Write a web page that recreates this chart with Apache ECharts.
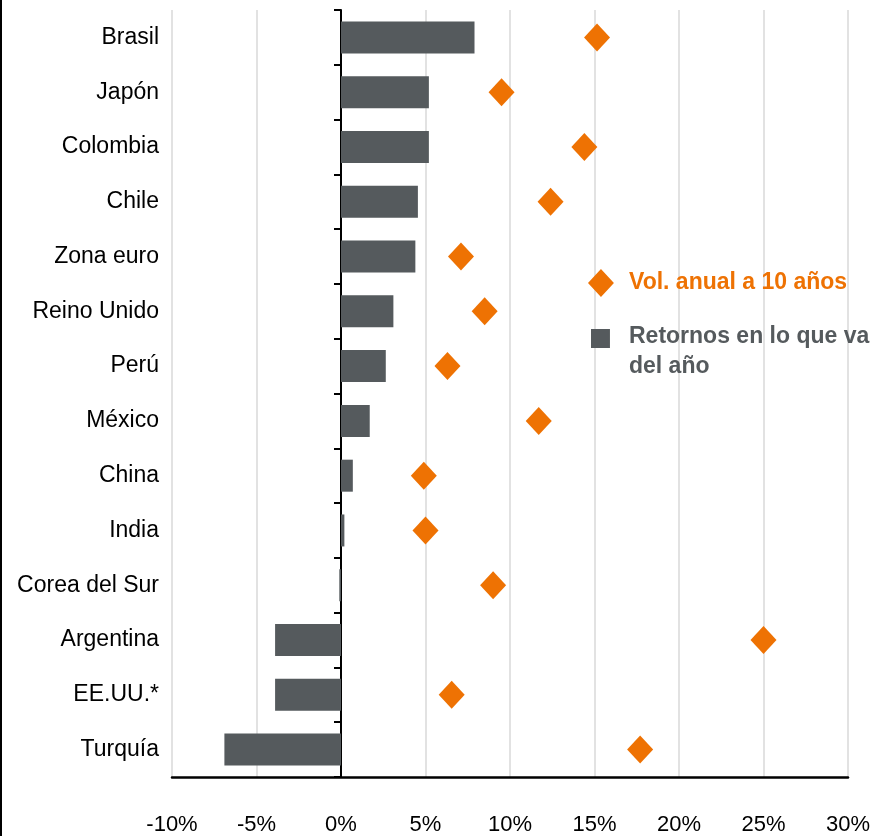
<!DOCTYPE html>
<html>
<head>
<meta charset="utf-8">
<script src="https://cdn.jsdelivr.net/npm/echarts@6/dist/echarts.min.js"></script>
<style>html,body{margin:0;padding:0;background:#fff;}#c{width:883px;height:836px;}</style>
</head>
<body>
<div id="c"></div>
<script>
const categories = ['Brasil','Japón','Colombia','Chile','Zona euro','Reino Unido','Perú','México','China','India','Corea del Sur','Argentina','EE.UU.*','Turquía'];
const retornos = [7.9, 5.2, 5.2, 4.55, 4.4, 3.1, 2.65, 1.7, 0.7, 0.2, -0.1, -3.9, -3.9, -6.9];
const volatilidad = [15.15, 9.5, 14.4, 12.4, 7.1, 8.5, 6.3, 11.7, 4.9, 5.0, 9.0, 25.0, 6.55, 17.7];
const xTicks = {min: -10, max: 30, interval: 5};
const nameVol = 'Vol. anual a 10 años';
const nameRet = 'Retornos en lo que va del año';

const GREY = '#555A5D';
const ORANGE = '#EE7203';
const FONT = '"Liberation Sans", Arial, sans-serif';

const chart = echarts.init(document.getElementById('c'), null, {renderer: 'canvas'});
chart.setOption({
  animation: false,
  backgroundColor: '#fff',
  grid: {left: 172, right: 35, top: 10, bottom: 58, containLabel: false},
  xAxis: {
    type: 'value', min: xTicks.min, max: xTicks.max, interval: xTicks.interval,
    axisLine: {show: true, onZero: false, lineStyle: {color: '#000', width: 2.5}},
    axisTick: {show: false},
    axisLabel: {formatter: '{value}%', fontSize: 22, fontFamily: FONT, color: '#000', margin: 37},
    splitLine: {show: true, lineStyle: {color: '#D9D9D9', width: 1.5}}
  },
  yAxis: [{
    type: 'category', data: categories, inverse: true, position: 'left',
    axisLine: {show: false, onZero: false}, axisTick: {show: false},
    axisLabel: {fontSize: 23, fontFamily: FONT, color: '#000', margin: 13}
  }, {
    type: 'category', data: categories, inverse: true, position: 'left',
    axisLine: {show: true, onZero: true, lineStyle: {color: '#000', width: 2}},
    axisTick: {show: true, length: 7, lineStyle: {color: '#000', width: 2}},
    axisLabel: {show: false}
  }],
  legend: [{
    left: 588, top: 269, orient: 'vertical', padding: 0,
    itemWidth: 36, itemHeight: 28,
    data: [{name: nameVol, icon: 'path://M13,0L26,14L13,28L0,14Z M36,28L36.1,28'}],
    textStyle: {color: ORANGE, fontWeight: 'bold', fontSize: 23, fontFamily: FONT}
  }, {
    left: 591, top: 322, orient: 'vertical', padding: 0,
    itemWidth: 33, itemHeight: 46,
    data: [{name: nameRet, icon: 'path://M0,0L19,0L19,19L0,19Z M33,46L33.1,46'}],
    formatter: function () { return 'Retornos en lo que va\ndel año'; },
    textStyle: {color: GREY, fontWeight: 'bold', fontSize: 23, fontFamily: FONT, lineHeight: 30}
  }],
  series: [{
    name: nameRet, type: 'bar', yAxisIndex: 0, data: retornos, barWidth: 32,
    itemStyle: {color: GREY}, z: 2
  }, {
    name: nameVol, type: 'scatter', yAxisIndex: 0, data: volatilidad,
    symbol: 'diamond', symbolSize: [26, 28],
    itemStyle: {color: ORANGE, opacity: 1}, z: 3
  }],
  graphic: [{
    type: 'rect', left: 0, top: 0, shape: {width: 2, height: 836},
    style: {fill: '#000'}, silent: true
  }]
});
</script>
</body>
</html>
